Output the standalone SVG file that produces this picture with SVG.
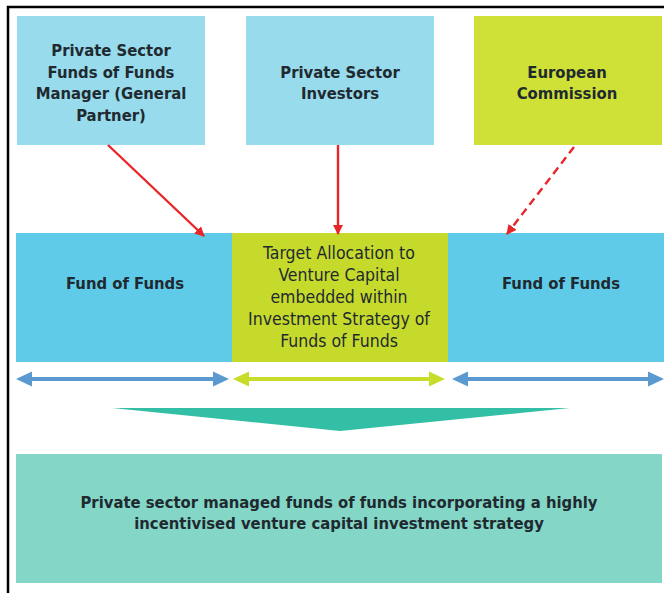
<svg xmlns="http://www.w3.org/2000/svg" width="664" height="593" viewBox="0 0 664 593">
<style>
.t{font-family:"DejaVu Sans Condensed","DejaVu Sans",sans-serif;font-size:16.5px;font-weight:bold;fill:#1f2a30;text-anchor:middle}
.r{font-weight:normal;font-size:17.5px}
.red{stroke:#e8262a;stroke-width:2.4;fill:none}
</style>
<defs>
<marker id="ah" viewBox="0 0 10 10" refX="9" refY="5" markerWidth="10" markerHeight="10" orient="auto" markerUnits="userSpaceOnUse">
<path d="M0,0 L10,5 L0,10 z" fill="#e8262a"/>
</marker>
</defs>
<rect x="0" y="0" width="664" height="593" fill="#fff"/>
<path d="M8,593 V7 H664" stroke="#000" stroke-width="2.5" fill="none"/>
<g id="gp"><rect x="17" y="16" width="188" height="129" fill="#97dbec"/>
<text class="t" x="111" y="56">Private Sector</text><text class="t" x="111" y="78">Funds of Funds</text><text class="t" x="111" y="99">Manager (General</text><text class="t" x="111" y="121">Partner)</text></g>
<g id="inv"><rect x="246" y="16" width="188" height="129" fill="#97dbec"/>
<text class="t" x="340" y="78">Private Sector</text><text class="t" x="340" y="99">Investors</text></g>
<g id="ec"><rect x="474" y="16" width="188" height="129" fill="#cfe036"/>
<text class="t" x="567" y="78">European</text><text class="t" x="567" y="99">Commission</text></g>
<g id="fof1"><rect x="16" y="233" width="217" height="129" fill="#5fcbe8"/>
<text class="t" x="125" y="289">Fund of Funds</text></g>
<g id="target"><rect x="232" y="233" width="216" height="129" fill="#c6da2c"/>
<text class="t r" x="339" y="259">Target Allocation to</text><text class="t r" x="339" y="281">Venture Capital</text><text class="t r" x="339" y="303">embedded within</text><text class="t r" x="339" y="325">Investment Strategy of</text><text class="t r" x="339" y="347">Funds of Funds</text></g>
<g id="fof2"><rect x="448" y="233" width="216" height="129" fill="#5fcbe8"/>
<text class="t" x="561" y="289">Fund of Funds</text></g>
<g id="result"><rect x="16" y="454" width="646" height="129" fill="#84d6c6"/>
<text class="t" x="339" y="508">Private sector managed funds of funds incorporating a highly</text><text class="t" x="339" y="529">incentivised venture capital investment strategy</text></g>
<g id="connectors">
<line class="red" x1="108" y1="145" x2="204" y2="236" marker-end="url(#ah)"/>
<line class="red" x1="338" y1="145" x2="338" y2="234" marker-end="url(#ah)"/>
<line class="red" x1="574" y1="147" x2="507" y2="234" stroke-dasharray="8,5" marker-end="url(#ah)"/>
<path d="M16,379 L32,371.5 L32,377 L213,377 L213,371.5 L229,379 L213,386.5 L213,381 L32,381 L32,386.5 Z" fill="#5b9ad0"/>
<path d="M233,379 L249,371.5 L249,377 L429,377 L429,371.5 L445,379 L429,386.5 L429,381 L249,381 L249,386.5 Z" fill="#c8dc2a"/>
<path d="M452,379 L468,371.5 L468,377 L648,377 L648,371.5 L664,379 L648,386.5 L648,381 L468,381 L468,386.5 Z" fill="#5b9ad0"/>
<path d="M112,408 L570,408 L340,431 Z" fill="#33bfa5"/>
</g>
</svg>
